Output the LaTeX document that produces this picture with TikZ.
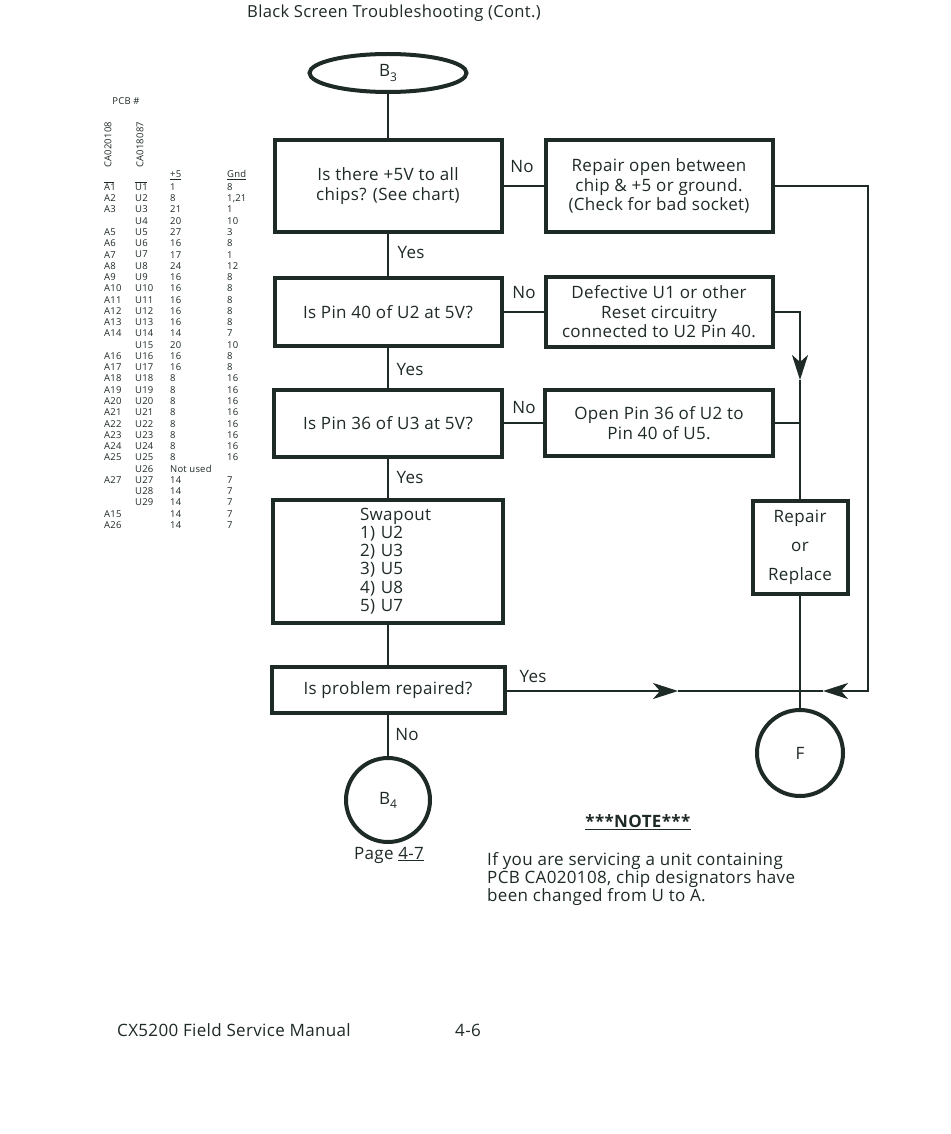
\documentclass[tikz,border=0pt]{standalone}
\usepackage{fontspec}
\setmainfont{Open Sans}[LetterSpace=2]
\usetikzlibrary{arrows.meta,shapes.geometric}
\definecolor{ink}{RGB}{30,42,38}
\begin{document}
\begin{tikzpicture}[x=1pt,y=-1pt,
  box/.style={draw=ink, line width=4pt, align=center, inner sep=0pt, font=\fontsize{17}{19.5}\selectfont, text=ink},
  conn/.style={draw=ink, line width=2.4pt},
  tipline/.style={conn, -{Stealth[length=25pt,width=16pt,inset=7pt]}},
  lab/.style={font=\fontsize{17}{19}\selectfont, text=ink, inner sep=0pt},
  tab/.style={font=\fontsize{9.5}{11}\selectfont, text=ink, anchor=west, inner sep=0pt},
]
\useasboundingbox[fill=white] (0,0) rectangle (950,1134);

% title
\node[lab, font=\fontsize{16.6}{19}\selectfont] (title) at (394,13) {Black Screen Troubleshooting (Cont.)};

% flowchart nodes
\node[box, ellipse, minimum width=157pt, minimum height=38pt] (b3) at (388,73) {B\raisebox{-0.45ex}{\fontsize{12}{12}\selectfont 3}};
\node[box, minimum width=227pt, minimum height=92pt] (q1) at (388,186) {Is there +5V to all\\chips? (See chart)};
\node[box, minimum width=227pt, minimum height=91pt] (r1) at (659,186) {Repair open between\\chip \& +5 or ground.\\(Check for bad socket)};
\node[box, minimum width=227pt, minimum height=68pt] (q2) at (388,312) {Is Pin 40 of U2 at 5V?};
\node[box, minimum width=227pt, minimum height=70pt] (r2) at (659,312) {Defective U1 or other\\Reset circuitry\\connected to U2 Pin 40.};
\node[box, minimum width=228pt, minimum height=67pt] (q3) at (388,423) {Is Pin 36 of U3 at 5V?};
\node[box, minimum width=228pt, minimum height=66pt] (r3) at (659,423) {Open Pin 36 of U2 to\\Pin 40 of U5.};
\node[box, minimum width=230pt, minimum height=123pt, align=left, text width=56pt, font=\fontsize{17}{18.3}\selectfont] (swap) at (388,561) {Swapout\\1) U2\\2) U3\\3) U5\\4) U8\\5) U7};
\node[box, minimum width=95pt, minimum height=93pt, font=\fontsize{17}{29}\selectfont] (rr) at (800,547) {Repair\\or\\Replace};
\node[box, minimum width=233pt, minimum height=46pt] (q4) at (388,690) {Is problem repaired?};
\node[box, circle, minimum size=84pt] (b4) at (388,800) {B\raisebox{-0.45ex}{\fontsize{12}{12}\selectfont 4}};
\node[box, circle, minimum size=86pt] (f) at (800,753) {F};

% helper coordinates
\coordinate (rc) at (868,691);
\coordinate (jn) at (800,691);
\coordinate (dt) at (800,380);
\coordinate (lt) at (823,691);
\coordinate (rt) at (678,691);

% main spine
\draw[conn] (b3.south) -- (q1.north);
\draw[conn] (q1.south) -- (q2.north);
\draw[conn] (q2.south) -- (q3.north);
\draw[conn] (q3.south) -- (swap.north);
\draw[conn] (swap.south) -- (q4.north);
\draw[conn] (q4.south) -- (b4.north);
% no branches
\draw[conn] (q1.east) -- (r1.west);
\draw[conn] (q2.east) -- (r2.west);
\draw[conn] (q3.east) -- (r3.west);
% right side
\draw[tipline] (r2.east) -- (r2.east -| rr.north) -- (dt);
\draw[conn] (dt) -- (rr.north);
\draw[conn] (r3.east) -- (r3.east -| rr.north);
\draw[conn] (rr.south) -- (f.north);
\draw[tipline] (r1.east) -- (r1.east -| rc) -- (rc) -- (lt);
\draw[conn] (lt) -- (jn);
\draw[tipline] (q4.east |- jn) -- (rt);
\draw[conn] (rt) -- (jn);

% labels
\node[lab] (n1) at (522,167) {No};
\node[lab] (n2) at (524,293) {No};
\node[lab] (n3) at (524,408) {No};
\node[lab] (y1) at (411,253) {Yes};
\node[lab] (y2) at (410,370) {Yes};
\node[lab] (y3) at (410,478) {Yes};
\node[lab] (y4) at (533,677) {Yes};
\node[lab] (n4) at (407,735) {No};

\node[lab] (page) at (389,855) {Page \underline{4-7}};
\node[lab] (noteh) at (638,822) {\underline{\textbf{***NOTE***}}};
\node[lab, anchor=north west, align=left, font=\fontsize{17}{18}\selectfont] (note) at (487,852) {If you are servicing a unit containing\\PCB CA020108, chip designators have\\been changed from U to A.};

% footer
\node[lab, anchor=west] (foot) at (117,1030) {CX5200 Field Service Manual};
\node[lab] (pg) at (468,1030) {4-6};

% table
\node[tab, anchor=center] (pcb) at (126,101) {PCB \#};
\node[tab, rotate=90, anchor=west] (ca1) at (108,168) {CA020108};
\node[tab, rotate=90, anchor=west] (ca2) at (140,168) {CA018087};
\node[tab] (h5) at (170,175) {\underline{+5}};
\node[tab] (hg) at (227,175) {\underline{Gnd}};
\draw[ink, line width=0.6pt] (104,182) -- (114,182);
\draw[ink, line width=0.6pt] (135,182) -- (147,182);
\def\xx{x}
\foreach \a/\u/\p/\g [count=\i] in {A1/U1/1/8, {A2/U2/8/1,21}, A3/U3/21/1, x/U4/20/10, A5/U5/27/3, A6/U6/16/8, A7/U7/17/1, A8/U8/24/12, A9/U9/16/8, A10/U10/16/8, A11/U11/16/8, A12/U12/16/8, A13/U13/16/8, A14/U14/14/7, x/U15/20/10, A16/U16/16/8, A17/U17/16/8, A18/U18/8/16, A19/U19/8/16, A20/U20/8/16, A21/U21/8/16, A22/U22/8/16, A23/U23/8/16, A24/U24/8/16, A25/U25/8/16, x/U26/Not used/x, A27/U27/14/7, x/U28/14/7, x/U29/14/7, A15/x/14/7, A26/x/14/7}{
  \pgfmathsetmacro\yy{187+11.27*(\i-1)}
  \ifx\a\xx\else\node[tab] (ta\i) at (104,\yy) {\a};\fi
  \ifx\u\xx\else\node[tab] (tu\i) at (135,\yy) {\u};\fi
  \ifx\p\xx\else\node[tab] (tp\i) at (170,\yy) {\p};\fi
  \ifx\g\xx\else\node[tab] (tg\i) at (227,\yy) {\g};\fi
}
\end{tikzpicture}
\end{document}
